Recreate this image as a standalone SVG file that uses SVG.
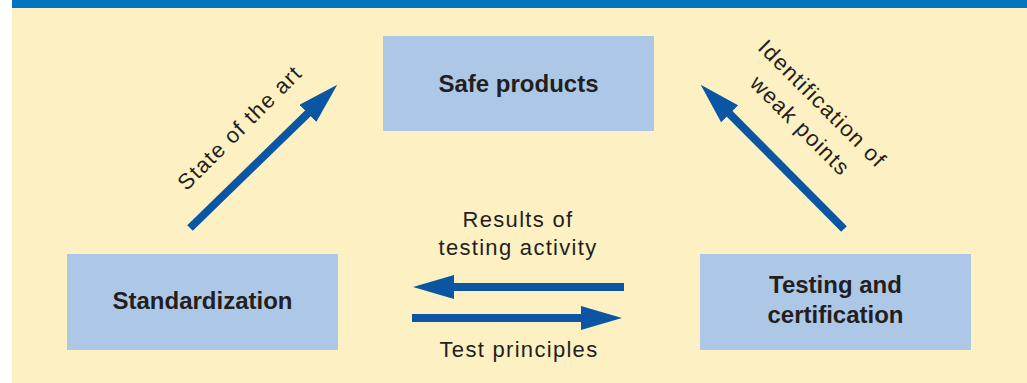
<svg xmlns="http://www.w3.org/2000/svg" width="1027" height="383" viewBox="0 0 1027 383">
<style>
.box{fill:#adc8e7}
.bold{font-family:"Liberation Sans",Arial,sans-serif;font-weight:bold;font-size:24px;fill:#231f20;text-anchor:middle}
.lbl{font-family:"Liberation Sans",Arial,sans-serif;font-size:22px;letter-spacing:1.3px;fill:#231f20;text-anchor:middle}
.arr{stroke:#0b56a3;stroke-width:8;fill:none;marker-end:url(#head)}
</style>
<defs>
<marker id="head" markerUnits="userSpaceOnUse" markerWidth="42" markerHeight="24" refX="1" refY="12" orient="auto" viewBox="0 0 42 24">
<path d="M0,0 L41,12 L0,24 z" fill="#0b56a3"/>
</marker>
</defs>
<rect x="0" y="0" width="1027" height="383" fill="#ffffff"/>
<rect x="12" y="0" width="1015" height="383" fill="#fdf0c3"/>
<rect x="12" y="0" width="1015" height="8" fill="#0075bf"/>
<g id="safe-products">
<rect class="box" x="383" y="36" width="271" height="95"/>
<text class="bold" x="518.5" y="91.5">Safe products</text>
</g>
<g id="standardization">
<rect class="box" x="67" y="254" width="271" height="96"/>
<text class="bold" x="202.5" y="308.5">Standardization</text>
</g>
<g id="testing-certification">
<rect class="box" x="700" y="254" width="271" height="96"/>
<text class="bold" x="835.5" y="292.5">Testing and</text>
<text class="bold" x="835.5" y="322.5">certification</text>
</g>
<g id="connectors">
<line class="arr" x1="190" y1="228" x2="308.6" y2="112.6"/>
<line class="arr" x1="844" y1="229" x2="728.9" y2="113.1"/>
<line class="arr" x1="624" y1="287" x2="453" y2="287"/>
<line class="arr" x1="412" y1="318" x2="582" y2="318"/>
<text class="lbl" transform="translate(245,133) rotate(-45)" x="0" y="0">State of the art</text>
<text class="lbl" transform="translate(817,109) rotate(45)" x="0" y="0">Identification of</text>
<text class="lbl" transform="translate(795,131) rotate(45)" x="0" y="0">weak points</text>
<text class="lbl" x="518" y="227">Results of</text>
<text class="lbl" x="518" y="255">testing activity</text>
<text class="lbl" x="519" y="357">Test principles</text>
</g>
</svg>
